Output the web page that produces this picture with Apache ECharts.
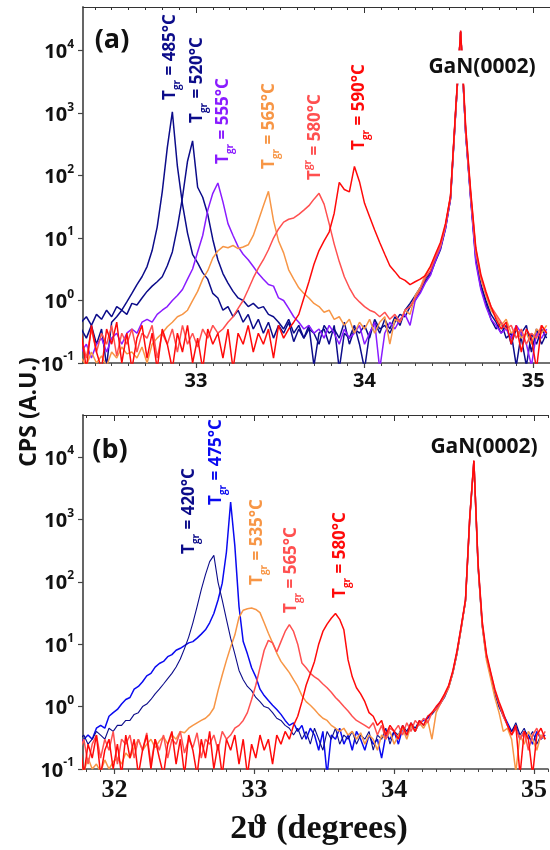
<!DOCTYPE html>
<html><head><meta charset="utf-8">
<script src="https://cdn.jsdelivr.net/npm/echarts@6/dist/echarts.min.js"></script>
<style>html,body{margin:0;padding:0;background:#fff}#c{width:550px;height:850px}</style>
</head><body><div id="c"></div>
<script>
// ---------- panel (a): sampling grid (2θ, degrees) ----------
const xStartA = 32.32, xStepA = 0.03;
const a485 = [0.45,0.55,0.4,0.6,0.5,0.7,0.55,0.8,0.7,0.95,
  1.3,1.8,2.4,3.5,6.3,15,55,280,1050,140,
  35,12,5.5,4,2.8,2.2,1.3,1.1,0.7,0.8,
  0.55,0.7,0.45,0.6,0.35,0.5,0.3,0.45,0.25,0.4,
  0.3,0.45,0.22,0.35,0.25,0.4,0.09,0.3,0.35,0.2,
  0.4,0.08,0.3,0.25,0.4,0.2,0.08,0.3,0.45,0.3,
  0.5,0.35,0.55,0.4,0.7,0.9,1.2,1.6,2.2,2.8,
  4.5,7,15,45,1000,20000,480,45,5,1.8,
  1,0.6,0.45,0.3,0.4,0.2,0.35,0.25,0.09,0.3,
  0.2,0.35,0.25];
const a520 = [0.35,0.25,0.4,0.2,0.35,0.09,0.45,0.55,0.7,0.6,
  0.9,0.85,1.1,1.4,1.7,2,2.4,3.6,6,15,
  45,170,360,65,45,24,9.5,4.5,2.7,1.9,
  1.4,1.1,1,0.8,0.9,0.75,0.8,0.6,0.55,0.45,
  0.35,0.5,0.3,0.4,0.25,0.35,0.3,0.2,0.4,0.3,
  0.35,0.25,0.45,0.2,0.35,0.3,0.4,0.25,0.5,0.35,
  0.4,0.3,0.45,0.6,0.55,0.8,1,1.4,2,2.6,
  4.2,6.5,14,42,950,20000,470,42,4.5,1.6,
  0.9,0.5,0.35,0.45,0.25,0.3,0.09,0.3,0.4,0.15,
  0.35,0.2,0.3];
const a555 = [0.15,0.2,0.12,0.2,0.25,0.15,0.25,0.3,0.2,0.3,
  0.35,0.3,0.45,0.5,0.45,0.6,0.7,0.8,1,1.2,
  1.5,2.2,3.2,6,11,28,52,76,38,17,
  11,7.3,5.5,4.5,3.5,2.7,2.2,1.8,1.7,1.1,
  1,0.75,0.55,0.45,0.35,0.4,0.3,0.35,0.25,0.4,
  0.3,0.2,0.35,0.25,0.3,0.4,0.2,0.3,0.45,0.08,
  0.3,0.45,0.35,0.5,0.6,0.4,1,1.3,1.9,2.5,
  4.3,6.8,14,43,980,20000,460,40,4,1.5,
  0.8,0.5,0.4,0.3,0.35,0.25,0.4,0.3,0.2,0.09,
  0.3,0.25,0.35];
const a565 = [0.12,0.09,0.15,0.1,0.13,0.09,0.15,0.12,0.18,0.14,
  0.15,0.12,0.18,0.1,0.2,0.25,0.3,0.38,0.45,0.55,
  0.6,0.7,1,1.4,2.2,3,4.8,6.2,7.3,7,
  7.6,6.8,7.2,7.8,11,19,33,56,19,9,
  5.8,3.1,2.2,1.6,1.3,1.1,0.9,0.8,0.65,0.7,
  0.5,0.55,0.4,0.5,0.3,0.45,0.35,0.5,0.3,0.45,
  0.55,0.2,0.5,0.45,0.7,0.6,1.2,1.6,2.6,3.5,
  5,7.5,16,46,1000,20000,520,48,6,2.2,
  1.2,0.7,0.55,0.4,0.5,0.3,0.35,0.25,0.3,0.2,
  0.35,0.3,0.4];
const a580 = [0.25,0.12,0.35,0.15,0.3,0.2,0.4,0.13,0.3,0.2,
  0.35,0.15,0.3,0.25,0.4,0.12,0.3,0.2,0.35,0.15,
  0.4,0.2,0.3,0.18,0.35,0.25,0.4,0.3,0.35,0.45,
  0.55,0.75,1,1.5,2.3,3.3,4.5,6.5,10,14,
  18,20,21,24,28,33,42,52,35,17,
  8,4.2,2.4,1.6,1.15,0.95,0.8,0.7,0.65,0.55,
  0.65,0.5,0.6,0.45,0.7,0.8,1.1,1.5,2.3,3,
  5,7.5,16,46,1050,20000,530,50,6.5,2.4,
  1.3,0.8,0.6,0.45,0.35,0.4,0.25,0.35,0.2,0.3,
  0.25,0.4,0.3];
const a590 = [0.3,0.08,0.4,0.15,0.08,0.35,0.2,0.45,0.1,0.3,
  0.08,0.25,0.4,0.12,0.3,0.08,0.35,0.2,0.08,0.3,
  0.15,0.4,0.1,0.25,0.08,0.35,0.2,0.3,0.12,0.35,
  0.08,0.3,0.2,0.4,0.15,0.3,0.2,0.35,0.12,0.4,
  0.25,0.35,0.45,0.6,1.1,2,3.8,6.3,9,12.5,
  25,78,60,55,140,80,36,22,13.5,8.5,
  5.5,3.6,2.9,2.3,2.1,1.8,2,2.2,2.5,3.5,
  5.5,8.5,17,48,1100,21000,600,55,7,2.6,
  1.4,0.8,0.5,0.35,0.45,0.2,0.4,0.15,0.35,0.25,
  0.08,0.4,0.3];

// ---------- panel (b) ----------
const xStartB = 31.75, xStepB = 0.03;
const b420 = [0.3,0.35,0.25,0.3,0.4,0.35,0.3,0.45,0.4,0.5,
  0.5,0.6,0.6,0.75,0.8,1,1.1,1.3,1.6,1.9,
  2.3,2.8,3.4,4.3,5.8,8.5,13,22,40,75,
  130,210,265,98,51,25,12.5,7,3.8,2.7,
  2.1,1.8,1.4,1.2,1,0.95,0.8,0.65,0.6,0.5,
  0.45,0.35,0.45,0.3,0.4,0.25,0.45,0.3,0.2,0.4,
  0.3,0.45,0.25,0.35,0.3,0.4,0.25,0.35,0.3,0.4,
  0.2,0.35,0.3,0.45,0.25,0.4,0.35,0.5,0.4,0.55,
  0.45,0.6,0.5,0.7,0.75,0.9,1.1,1.4,2,3.4,
  7,18,48,950,8400,170,19,6,3.2,1.6,
  1,0.7,0.5,0.4,0.55,0.35,0.45,0.3,0.4,0.25,
  0.35,0.3];
const b475 = [0.25,0.3,0.35,0.3,0.45,0.5,0.45,0.7,0.8,0.9,
  1.1,1.3,1.4,1.9,2.1,2.5,3.1,3.4,4.3,4.9,
  5.3,6.3,6.8,8,8.6,9.5,10.5,11,12.5,14.5,
  17,22,31,51,95,300,1900,380,40,11,
  7,4.2,3,1.9,1.5,1.25,1.05,0.9,0.75,0.6,
  0.5,0.55,0.4,0.5,0.3,0.45,0.35,0.2,0.4,0.08,
  0.35,0.3,0.45,0.25,0.35,0.2,0.4,0.3,0.2,0.35,
  0.25,0.3,0.15,0.35,0.3,0.4,0.25,0.45,0.35,0.5,
  0.4,0.55,0.6,0.65,0.8,0.9,1.2,1.5,2.1,3.6,
  7.5,19,50,1000,8600,180,20,6.2,3.3,1.7,
  1,0.75,0.55,0.4,0.5,0.3,0.4,0.35,0.25,0.4,
  0.3,0.35];
const b535 = [0.12,0.09,0.15,0.1,0.12,0.09,0.14,0.1,0.13,0.15,
  0.12,0.18,0.15,0.22,0.3,0.2,0.25,0.3,0.22,0.28,
  0.33,0.25,0.35,0.3,0.4,0.38,0.45,0.5,0.55,0.6,
  0.65,0.75,0.95,1.8,3.2,5.5,9,14,27,35,
  37,38,36,32,22,15,10.5,7.2,5.3,4.3,
  3.5,2.7,2.1,1.5,1.2,1.05,0.9,0.75,0.65,0.6,
  0.5,0.45,0.4,0.45,0.35,0.4,0.3,0.38,0.25,0.35,
  0.3,0.2,0.35,0.3,0.4,0.25,0.35,0.45,0.3,0.5,
  0.4,0.55,0.45,0.6,0.3,0.8,1.1,1.5,2,3.5,
  7.3,18,49,980,8500,175,19,5.5,2.8,1.4,
  0.8,0.4,0.45,0.3,0.09,0.35,0.25,0.4,0.3,0.2,
  0.35,0.3];
const b565 = [0.2,0.3,0.12,0.25,0.35,0.15,0.3,0.2,0.4,0.12,
  0.3,0.25,0.35,0.15,0.3,0.2,0.38,0.12,0.3,0.2,
  0.35,0.15,0.3,0.25,0.4,0.18,0.3,0.22,0.38,0.15,
  0.3,0.25,0.35,0.2,0.4,0.3,0.35,0.45,0.5,0.6,
  0.8,1.3,2.2,4.2,8,11.5,10.5,7.5,11,16,
  20.5,16,10,5,4.2,3.4,3,2.7,2.3,2,
  1.7,1.4,1.2,1,0.85,0.7,0.6,0.55,0.5,0.45,
  0.55,0.35,0.5,0.3,0.45,0.4,0.5,0.35,0.55,0.4,
  0.6,0.5,0.65,0.55,0.8,0.9,1.1,1.5,2.1,3.6,
  7.6,19,50,1020,8600,185,21,6.5,3.4,1.8,
  1.1,0.7,0.5,0.35,0.45,0.3,0.4,0.2,0.35,0.45,
  0.3,0.4];
const b580 = [0.3,0.08,0.25,0.15,0.35,0.08,0.2,0.3,0.1,0.25,
  0.08,0.35,0.15,0.3,0.08,0.2,0.35,0.1,0.3,0.15,
  0.08,0.25,0.4,0.12,0.3,0.08,0.35,0.2,0.08,0.3,
  0.15,0.4,0.1,0.25,0.08,0.3,0.2,0.35,0.12,0.3,
  0.08,0.25,0.15,0.35,0.2,0.3,0.12,0.35,0.25,0.4,
  0.3,0.5,0.7,1.2,2.2,3.4,5.3,10,16,21,
  26,31,25,17,5.6,3,2,1.6,1.2,0.8,
  0.7,0.5,0.6,0.35,0.5,0.4,0.3,0.5,0.35,0.55,
  0.4,0.6,0.5,0.7,0.8,1,1.2,1.6,2.2,3.8,
  8,20,52,1050,8800,200,23,7,3.6,1.9,
  1.2,0.8,0.5,0.35,0.5,0.08,0.4,0.3,0.08,0.35,
  0.45,0.3];

// ---------- axes / ticks ----------
const xLabelsA = [33, 34, 35];
const xLabelsB = [32, 33, 34, 35];
const yDecades = [0.1, 1, 10, 100, 1000, 10000];
const xRangeA = [32.33, 35.1];
const xRangeB = [31.774, 35.1];
const yRangeA = [0.1, 50000];
const yRangeB = [0.1, 47000];

const NAVY = '#0c0c8a', BLUE = '#0a0af0', VIOLET = '#8a1cff', ORANGE = '#f79646', LRED = '#ff5050', RED = '#ff0a0a';

function pts(vals, x0, dx) { return vals.map((v, i) => [+(x0 + dx * i).toFixed(3), v]); }
function minorTicks(lo, hi) {
  const out = [];
  for (let k = Math.ceil(lo * 10); k <= Math.floor(hi * 10 + 1e-9); k++) { if (k % 10 !== 0) out.push(k / 10); }
  return out;
}

const SANS = '"Open Sans", "Noto Sans", sans-serif';
const SERIF = '"Liberation Serif", "DejaVu Serif", serif';

function xAxesFor(grid, range, labels, labelFont, labelSize) {
  const base = { gridIndex: grid, type: 'value', min: range[0], max: range[1], splitLine: { show: false } };
  const minors = minorTicks(range[0], range[1]);
  return [
    Object.assign({}, base, { position: 'bottom',
      axisLine: { show: true, lineStyle: { color: '#444', width: 1.5 } },
      axisTick: { show: true, inside: false, length: 5, customValues: labels, lineStyle: { color: '#444', width: 1.2 } },
      axisLabel: { show: true, customValues: labels, margin: 8, color: '#111', fontFamily: labelFont, fontWeight: 'bold', fontSize: labelSize } }),
    Object.assign({}, base, { position: 'bottom',
      axisLine: { show: false },
      axisTick: { show: true, inside: false, length: 3, customValues: minors, lineStyle: { color: '#444', width: 1 } },
      axisLabel: { show: false } }),
    Object.assign({}, base, { position: 'top',
      axisLine: { show: true, lineStyle: { color: '#333', width: 1 } },
      axisTick: { show: true, inside: true, length: 6, customValues: labels, lineStyle: { color: '#333', width: 1 } },
      axisLabel: { show: false } }),
    Object.assign({}, base, { position: 'top',
      axisLine: { show: false },
      axisTick: { show: true, inside: true, length: 3, customValues: minors, lineStyle: { color: '#333', width: 1 } },
      axisLabel: { show: false } })
  ];
}

function yAxisFor(grid, range) {
  return {
    gridIndex: grid, type: 'log', logBase: 10, min: range[0], max: range[1], splitLine: { show: false },
    axisLine: { show: true, lineStyle: { color: '#555', width: 1.8 } },
    axisTick: { show: true, inside: false, length: 5, customValues: yDecades, lineStyle: { color: '#444', width: 1.2 } },
    minorTick: { show: false },
    axisLabel: {
      show: true, customValues: yDecades, margin: 9,
      formatter: function (v) {
        const e = Math.round(Math.log10(v));
        if (Math.abs(Math.log10(v) - e) > 1e-6) return '';
        return '{b|10}{s|' + (e < 0 ? '-' + (-e) : e) + '}';
      },
      rich: {
        b: { fontFamily: SANS, fontWeight: 'bold', fontSize: 20, color: '#111', lineHeight: 24, verticalAlign: 'bottom' },
        s: { fontFamily: SANS, fontWeight: 'bold', fontSize: 12, color: '#111', lineHeight: 12, verticalAlign: 'top' }
      }
    }
  };
}

function line(name, data, color, xi, yi, w) {
  return { name: name, type: 'line', data: data, xAxisIndex: xi, yAxisIndex: yi, showSymbol: false, symbol: 'none',
    lineStyle: { color: color, width: w || 1.5 }, itemStyle: { color: color }, clip: true, animation: false };
}

function tLabel(cx, cy, color, txt, sup) {
  return {
    type: 'text', x: cx, y: cy, rotation: Math.PI / 2, z: 50,
    style: {
      text: '{t|T}{s|gr}{t| = ' + txt + '}', fill: color, align: 'center', verticalAlign: 'middle',
      rich: {
        t: { fontFamily: SANS, fontWeight: 'bold', fontSize: 17, lineHeight: 24, verticalAlign: 'middle' },
        s: { fontFamily: SANS, fontWeight: 'bold', fontSize: 10, lineHeight: 10, verticalAlign: sup ? 'top' : 'bottom' }
      }
    }
  };
}

const option = {
  backgroundColor: '#fff',
  animation: false,
  grid: [
    { left: 83, top: 7, width: 471, height: 356 },
    { left: 83, top: 415, width: 471, height: 354 }
  ],
  xAxis: [].concat(
    xAxesFor(0, xRangeA, xLabelsA, SANS, 20),
    xAxesFor(1, xRangeB, xLabelsB, SERIF, 26)
  ),
  yAxis: [yAxisFor(0, yRangeA), yAxisFor(1, yRangeB)],
  series: [
    line('485', pts(a485, xStartA, xStepA), NAVY, 0, 0),
    line('520', pts(a520, xStartA, xStepA), NAVY, 0, 0),
    line('555', pts(a555, xStartA, xStepA), VIOLET, 0, 0),
    line('565', pts(a565, xStartA, xStepA), ORANGE, 0, 0),
    line('580', pts(a580, xStartA, xStepA), LRED, 0, 0),
    line('590', pts(a590, xStartA, xStepA), RED, 0, 0),
    line('475', pts(b475, xStartB, xStepB), BLUE, 4, 1),
    line('420', pts(b420, xStartB, xStepB), NAVY, 4, 1, 1.1),
    line('535', pts(b535, xStartB, xStepB), ORANGE, 4, 1),
    line('565b', pts(b565, xStartB, xStepB), LRED, 4, 1),
    line('580b', pts(b580, xStartB, xStepB), RED, 4, 1)
  ],
  graphic: [
    { type: 'text', x: 112, y: 40, z: 50, style: { text: '(a)', fill: '#111', align: 'center', verticalAlign: 'middle', font: 'bold 27px ' + SANS } },
    { type: 'text', x: 110, y: 450, z: 50, style: { text: '(b)', fill: '#111', align: 'center', verticalAlign: 'middle', font: 'bold 27px ' + SANS } },
    { type: 'text', x: 482, y: 67, z: 60, style: { text: 'GaN(0002)', fill: '#111', align: 'center', verticalAlign: 'middle', font: 'bold 21px ' + SANS, backgroundColor: '#fff', padding: [6, 2] } },
    { type: 'text', x: 484, y: 447, z: 60, style: { text: 'GaN(0002)', fill: '#111', align: 'center', verticalAlign: 'middle', font: 'bold 21px ' + SANS } },
    tLabel(170, 57, NAVY, '485°C'),
    tLabel(197, 80, NAVY, '520°C'),
    tLabel(223, 121, VIOLET, '555°C'),
    tLabel(269, 126, ORANGE, '565°C'),
    tLabel(315, 137, LRED, '580°C', true),
    tLabel(359, 107, RED, '590°C'),
    tLabel(189, 511, NAVY, '420°C'),
    tLabel(216, 462, BLUE, '475°C'),
    tLabel(257, 542, ORANGE, '535°C'),
    tLabel(291, 570, LRED, '565°C'),
    tLabel(340, 555, RED, '580°C'),
    { type: 'text', x: 29, y: 412, rotation: Math.PI / 2, z: 50, style: { text: 'CPS (A.U.)', fill: '#111', align: 'center', verticalAlign: 'middle', font: 'bold 23px ' + SANS } },
    { type: 'text', x: 319, y: 829, z: 50, style: { text: '2ϑ (degrees)', fill: '#111', align: 'center', verticalAlign: 'middle', font: 'bold 34px ' + SERIF } }
  ]
};

const chart = echarts.init(document.getElementById('c'), null, { renderer: 'canvas', width: 550, height: 850 });
chart.setOption(option);
</script>
</body></html>
